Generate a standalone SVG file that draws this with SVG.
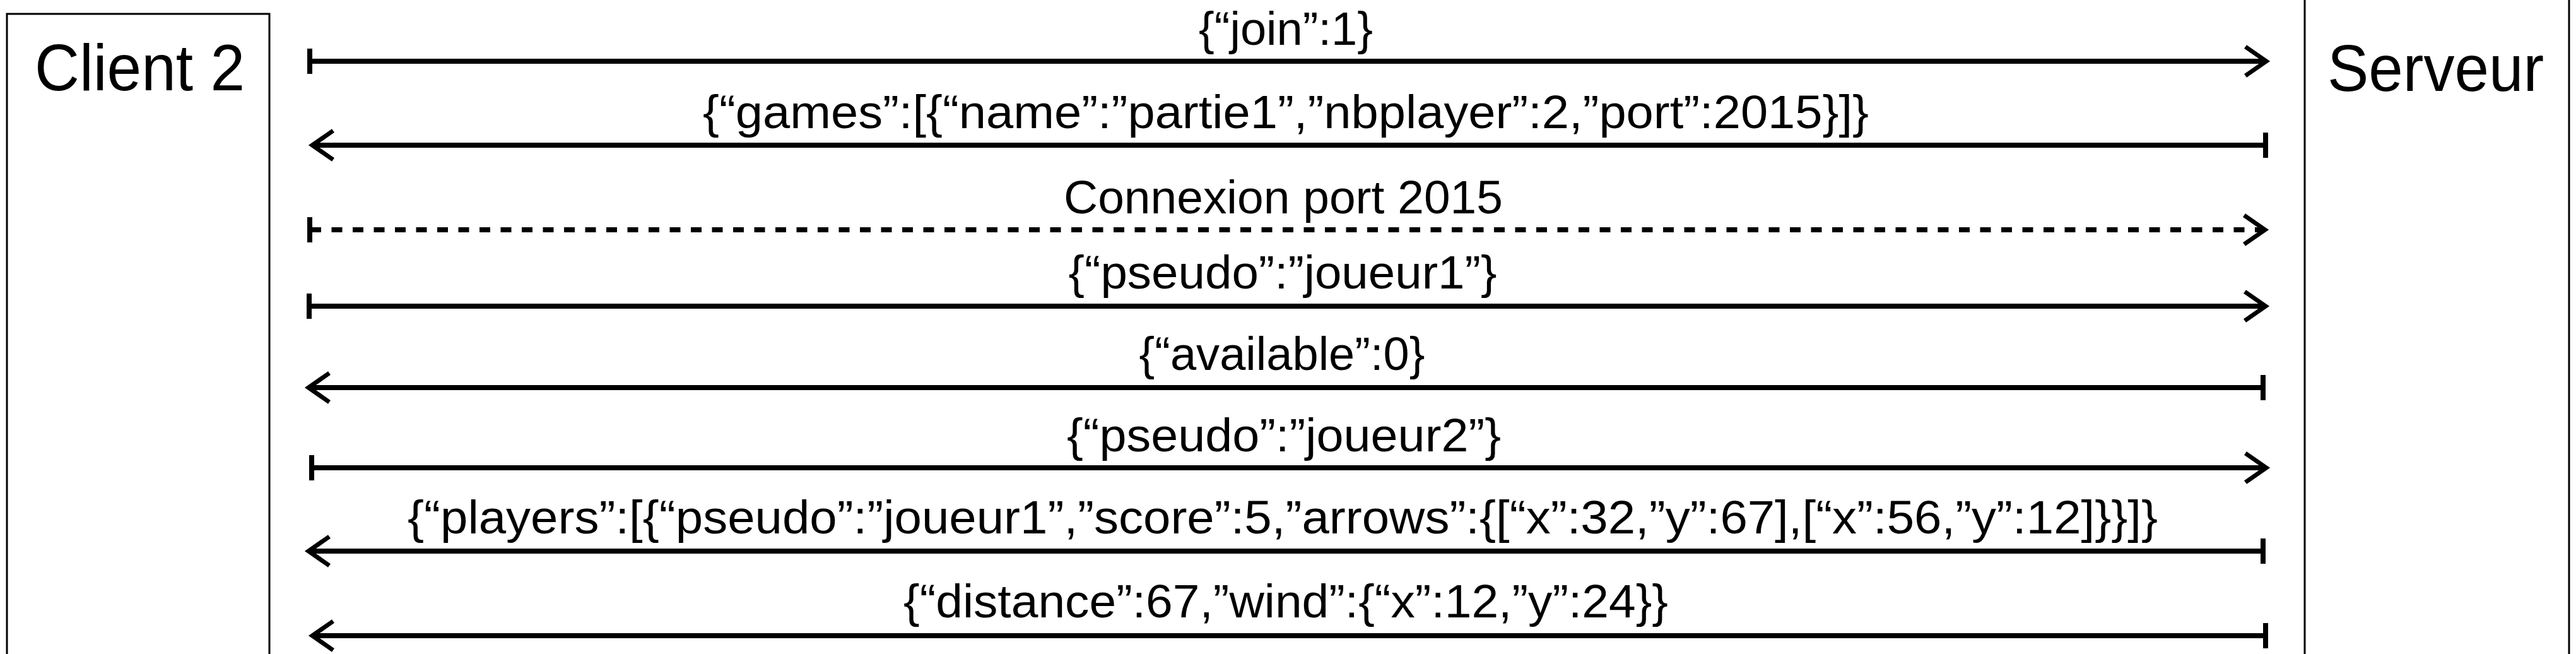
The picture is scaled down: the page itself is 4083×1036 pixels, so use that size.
<svg xmlns="http://www.w3.org/2000/svg" width="4083" height="1036" viewBox="0 0 4083 1036">
<style>
.box{fill:none;stroke:#000;stroke-width:3}
.ln{fill:none;stroke:#000;stroke-width:8}
.dash{stroke-dasharray:17 16.5}
.hd{fill:none;stroke:#000;stroke-width:7;stroke-linejoin:miter}
.lbl{font-family:"Liberation Sans",Arial,sans-serif;font-size:75px;fill:#000;text-anchor:middle}
.title{font-family:"Liberation Sans",Arial,sans-serif;font-size:104px;fill:#000}
</style>
<rect width="4083" height="1036" fill="#fff"/>
<g id="client2">
<path class="box" d="M11,1040 V22 H427 V1040"/>
<text class="title" x="55" y="143" textLength="333" lengthAdjust="spacingAndGlyphs">Client 2</text>
</g>
<g id="serveur">
<path class="box" d="M3653,-5 V1040 M4072,-5 V1040"/>
<text class="title" x="3689" y="144" textLength="343" lengthAdjust="spacingAndGlyphs">Serveur</text>
</g>
<g id="connectors">
<g id="m1">
<path class="ln" d="M491,77 V117 M491,97 H3590"/>
<path class="hd" d="M3559,74 L3592,97 L3559,120"/>
<text class="lbl" x="2038" y="71" textLength="276" lengthAdjust="spacingAndGlyphs">{“join”:1}</text>
</g>
<g id="m2">
<path class="ln" d="M3591,210 V250 M3591,230 H494"/>
<path class="hd" d="M528,207 L495,230 L528,253"/>
<text class="lbl" x="2038" y="203" textLength="1848" lengthAdjust="spacingAndGlyphs">{“games”:[{“name”:”partie1”,”nbplayer”:2,”port”:2015}]}</text>
</g>
<g id="m3">
<path class="ln" d="M491,344 V384"/>
<path class="ln dash" d="M492,364 H3588"/>
<path class="hd" d="M3557,341 L3590,364 L3557,387"/>
<text class="lbl" x="2034" y="338" textLength="696" lengthAdjust="spacingAndGlyphs">Connexion port 2015</text>
</g>
<g id="m4">
<path class="ln" d="M490,465 V505 M490,485 H3589"/>
<path class="hd" d="M3558,462 L3591,485 L3558,508"/>
<text class="lbl" x="2033" y="457" textLength="679" lengthAdjust="spacingAndGlyphs">{“pseudo”:”joueur1”}</text>
</g>
<g id="m5">
<path class="ln" d="M3587,594 V634 M3587,614 H490"/>
<path class="hd" d="M522,591 L489,614 L522,637"/>
<text class="lbl" x="2032" y="586" textLength="453" lengthAdjust="spacingAndGlyphs">{“available”:0}</text>
</g>
<g id="m6">
<path class="ln" d="M494,721 V761 M494,741 H3590"/>
<path class="hd" d="M3559,718 L3592,741 L3559,764"/>
<text class="lbl" x="2035" y="715" textLength="688" lengthAdjust="spacingAndGlyphs">{“pseudo”:”joueur2”}</text>
</g>
<g id="m7">
<path class="ln" d="M3587,853 V893 M3587,873 H490"/>
<path class="hd" d="M522,850 L489,873 L522,896"/>
<text class="lbl" x="2033" y="845" textLength="2774" lengthAdjust="spacingAndGlyphs">{“players”:[{“pseudo”:”joueur1”,”score”:5,”arrows”:{[“x”:32,”y”:67],[“x”:56,”y”:12]}}]}</text>
</g>
<g id="m8">
<path class="ln" d="M3591,987 V1027 M3591,1007 H496"/>
<path class="hd" d="M528,984 L495,1007 L528,1030"/>
<text class="lbl" x="2038" y="978" textLength="1212" lengthAdjust="spacingAndGlyphs">{“distance”:67,”wind”:{“x”:12,”y”:24}}</text>
</g>
</g>
</svg>
